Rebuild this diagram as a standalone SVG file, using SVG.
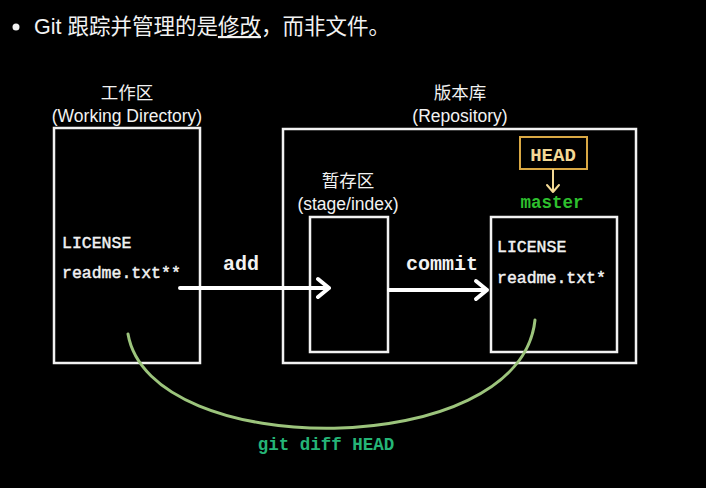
<svg xmlns="http://www.w3.org/2000/svg" width="706" height="488" viewBox="0 0 706 488">
<style>
.box{fill:none;stroke:#f2f2f2;stroke-width:2.5}
.lbl{font-family:"Liberation Sans","Noto Sans CJK SC",sans-serif;font-size:17.5px;fill:#f2f2f2;text-anchor:middle}
.mono{font-family:"Liberation Mono",monospace;fill:#f2f2f2;font-weight:bold}
.file{font-size:16.5px;font-weight:normal;stroke:#f2f2f2;stroke-width:0.45}
.op{font-size:20px;text-anchor:middle}
.arrow{fill:none;stroke:#ffffff;stroke-width:4;stroke-linecap:round;stroke-linejoin:round}
</style>
<rect width="706" height="488" fill="#000"/>
<g id="title">
<circle cx="16" cy="27" r="3.5" fill="#f2f2f2"/>
<text x="34" y="34" font-family="'Liberation Sans','Noto Sans CJK SC',sans-serif" font-size="21.5" fill="#f2f2f2">Git 跟踪并管理的是<tspan text-decoration="underline">修改</tspan>，而非文件。</text>
</g>
<g id="working">
<text class="lbl" x="127" y="99">工作区</text>
<text class="lbl" x="127" y="122">(Working Directory)</text>
<rect class="box" x="54" y="128" width="146" height="235"/>
<text class="mono file" x="62" y="248">LICENSE</text>
<text class="mono file" x="62" y="278">readme.txt**</text>
</g>
<g id="repository">
<text class="lbl" x="460" y="99">版本库</text>
<text class="lbl" x="460" y="122">(Repository)</text>
<rect class="box" x="283" y="129" width="353" height="234"/>
</g>
<g id="stage">
<text class="lbl" x="348" y="187">暂存区</text>
<text class="lbl" x="348" y="210">(stage/index)</text>
<rect class="box" x="310" y="217" width="78" height="135"/>
</g>
<g id="head">
<rect x="520" y="137" width="67" height="32" fill="none" stroke="#d9a844" stroke-width="2"/>
<text class="mono" x="553" y="161" font-size="19" text-anchor="middle" style="fill:#f3d995">HEAD</text>
</g>
<g id="master">
<text class="mono" x="552" y="208" font-size="17.5" text-anchor="middle" style="fill:#2ec02e">master</text>
<rect class="box" x="491" y="217" width="126" height="135"/>
<text class="mono file" x="497" y="252">LICENSE</text>
<text class="mono file" x="497" y="283">readme.txt*</text>
</g>
<g id="connectors">
<path class="arrow" d="M180 288 H329 M318 279 L329 288 L318 297"/>
<text class="mono op" x="241" y="270">add</text>
<path class="arrow" d="M389 290 H487 M476 281 L487 290 L476 299"/>
<text class="mono op" x="442" y="270">commit</text>
<path d="M553 170 V192 M547 185 L553 192 L559 185" fill="none" stroke="#f3d995" stroke-width="2" stroke-linecap="round" stroke-linejoin="round"/>
<path d="M128 334 C150 462 520 462 535 320" fill="none" stroke="#9cc47c" stroke-width="3" stroke-linecap="round"/>
<text class="mono" x="326" y="450" font-size="17.5" text-anchor="middle" style="fill:#25b577">git diff HEAD</text>
</g>
</svg>
